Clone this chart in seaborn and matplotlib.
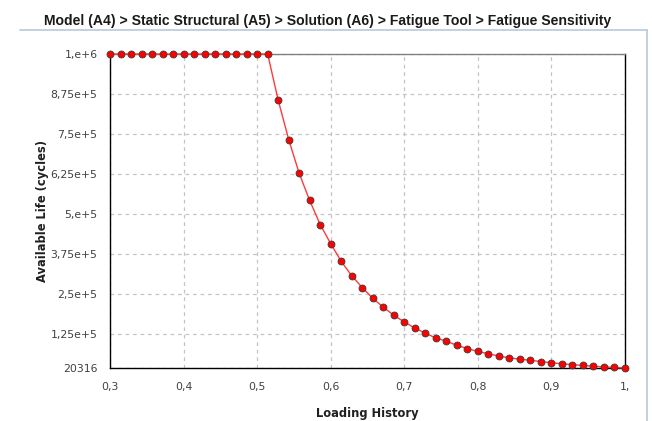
import numpy as np
import pandas as pd
import seaborn as sns
import matplotlib.pyplot as plt
from matplotlib.lines import Line2D

# loading history values (x) and available life in cycles (y)
loading_history = [
    0.3000, 0.3143, 0.3286, 0.3429, 0.3571, 0.3714, 0.3857, 0.4000, 0.4143, 0.4286,
    0.4429, 0.4571, 0.4714, 0.4857, 0.5000, 0.5143, 0.5286, 0.5429, 0.5571, 0.5714,
    0.5857, 0.6000, 0.6143, 0.6286, 0.6429, 0.6571, 0.6714, 0.6857, 0.7000, 0.7143,
    0.7286, 0.7429, 0.7571, 0.7714, 0.7857, 0.8000, 0.8143, 0.8286, 0.8429, 0.8571,
    0.8714, 0.8857, 0.9000, 0.9143, 0.9286, 0.9429, 0.9571, 0.9714, 0.9857, 1.0000,
]
available_life = [
    1e6, 1e6, 1e6, 1e6, 1e6, 1e6, 1e6, 1e6, 1e6, 1e6,
    1e6, 1e6, 1e6, 1e6, 1e6, 1e6, 856000, 733000, 628000, 543000,
    468000, 408000, 353000, 308000, 271000, 238000, 210000, 185000, 164000, 145000,
    129000, 114000, 104000, 91000, 81000, 72000, 64500, 57500, 52000, 47800,
    44200, 40500, 36800, 33500, 31000, 28200, 25800, 23800, 22000, 20316,
]

y_ticks = [20316, 125000, 250000, 375000, 500000, 625000, 750000, 875000, 1000000]
y_labels = ["20316", "1,25e+5", "2,5e+5", "3,75e+5", "5,e+5", "6,25e+5", "7,5e+5", "8,75e+5", "1,e+6"]
x_ticks = [0.3, 0.4, 0.5, 0.6, 0.7, 0.8, 0.9, 1.0]
x_labels = ["0,3", "0,4", "0,5", "0,6", "0,7", "0,8", "0,9", "1,"]

title = "Model (A4) > Static Structural (A5) > Solution (A6) > Fatigue Tool > Fatigue Sensitivity"

df = pd.DataFrame({"Loading History": loading_history, "Available Life (cycles)": available_life})

sns.set_style("white")
plt.rcParams['font.family'] = ['DejaVu Sans']

fig = plt.figure(figsize=(6.52, 4.21), dpi=100)
ax = fig.add_axes([110 / 652, 1 - 368 / 421, 515 / 652, 314 / 421])

sns.lineplot(data=df, x="Loading History", y="Available Life (cycles)", ax=ax,
             color="#ff3a3a", linewidth=1.0, marker="o", markersize=5.0,
             markerfacecolor="#ff0000", markeredgecolor="#3a3a3a", markeredgewidth=0.6,
             clip_on=False, zorder=3)

ax.set_xlim(0.3, 1.0)
ax.set_ylim(20316, 1000000)
ax.set_xticks(x_ticks)
ax.set_xticklabels(x_labels)
ax.set_yticks(y_ticks)
ax.set_yticklabels(y_labels)

ax.grid(True, color="#c4c4c4", linestyle=(0, (3, 3)), linewidth=0.9)
ax.tick_params(axis="both", which="both", colors="#b0b0b0", labelcolor="#404040",
               labelsize=7.8, direction="out")
ax.tick_params(axis="y", length=7, width=1.2, pad=2)
ax.tick_params(axis="x", length=5, width=1.2, pad=5)

for side in ["left", "bottom", "right"]:
    ax.spines[side].set_color("#000000")
    ax.spines[side].set_linewidth(1.0)
ax.spines["top"].set_color("#808080")
ax.spines["top"].set_linewidth(1.0)

ax.set_xlabel("Loading History", fontsize=8.3, fontweight="bold", color="#202020", labelpad=11)
ax.set_ylabel("Available Life (cycles)", fontsize=8.3, fontweight="bold", color="#202020", labelpad=1)

fig.text(0.503, 1 - 21 / 421, title, ha="center", va="center", fontsize=10.05,
         fontweight="bold", family="Liberation Sans", color="#1a1a1a")

# light panel frame (top and right)
fig.add_artist(Line2D([20 / 652, 647 / 652], [1 - 30 / 421, 1 - 30 / 421],
                      transform=fig.transFigure, color="#b8c8dc", linewidth=1.2))
fig.add_artist(Line2D([647 / 652, 647 / 652], [1 - 30 / 421, 0.0],
                      transform=fig.transFigure, color="#b8c8dc", linewidth=1.2))

fig.savefig("out.png", dpi=100)
